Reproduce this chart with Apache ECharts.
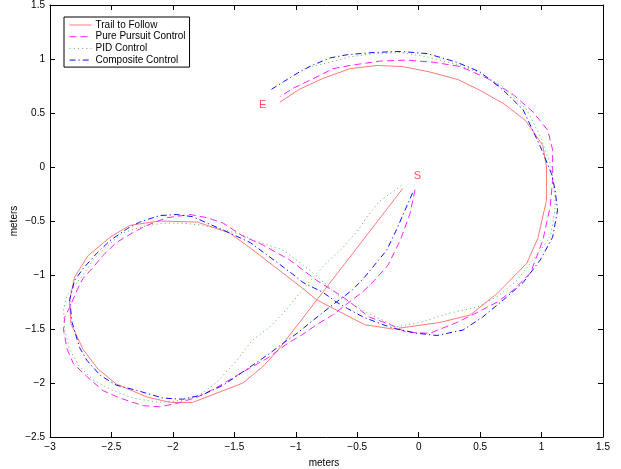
<!DOCTYPE html>
<html>
<head>
<meta charset="utf-8">
<script src="https://cdn.jsdelivr.net/npm/echarts@6/dist/echarts.min.js"></script>
<style>
  html, body { margin: 0; padding: 0; background: #fff; }
  #chart { width: 621px; height: 469px; }
</style>
</head>
<body>
<div id="chart"></div>
<script>
// path points, [x, y] in meters
const trail = [
  [-0.13, -0.20], [-1.14, -1.69], [-1.27, -1.85], [-1.43, -2.00], [-1.84, -2.18], [-2.02, -2.18],
  [-2.21, -2.13], [-2.46, -2.01], [-2.61, -1.87], [-2.73, -1.69], [-2.83, -1.45], [-2.84, -1.23],
  [-2.80, -1.02], [-2.69, -0.82], [-2.51, -0.65], [-2.35, -0.54], [-2.11, -0.50], [-1.80, -0.51],
  [-1.54, -0.61], [-1.37, -0.75], [-0.97, -1.10], [-0.83, -1.23], [-0.44, -1.46], [-0.21, -1.50],
  [0.17, -1.44], [0.42, -1.37], [0.64, -1.17], [0.88, -0.89], [0.97, -0.66], [1.04, -0.31],
  [1.04, 0.00], [1.01, 0.20], [0.87, 0.43], [0.70, 0.58], [0.50, 0.71], [0.32, 0.81],
  [0.09, 0.88], [-0.13, 0.93], [-0.34, 0.94], [-0.56, 0.91], [-0.78, 0.82], [-0.97, 0.72],
  [-1.13, 0.60]
]
const purePursuit = [
  [-0.03, -0.21], [-0.07, -0.43], [-0.15, -0.68], [-0.25, -0.91], [-0.36, -1.05], [-0.44, -1.14],
  [-0.54, -1.23], [-0.70, -1.37], [-0.83, -1.46], [-0.97, -1.57], [-1.05, -1.62], [-1.23, -1.77],
  [-1.45, -1.91], [-1.64, -2.04], [-1.80, -2.13], [-1.97, -2.19], [-2.11, -2.22], [-2.24, -2.21],
  [-2.43, -2.14], [-2.57, -2.07], [-2.70, -1.94], [-2.81, -1.82], [-2.86, -1.69], [-2.89, -1.51],
  [-2.88, -1.39], [-2.84, -1.30], [-2.78, -1.14], [-2.73, -1.03], [-2.65, -0.93], [-2.57, -0.82],
  [-2.46, -0.70], [-2.33, -0.61], [-2.21, -0.54], [-2.05, -0.47], [-1.86, -0.44], [-1.72, -0.47],
  [-1.59, -0.52], [-1.43, -0.64], [-1.27, -0.72], [-1.05, -0.86], [-0.83, -1.05], [-0.62, -1.20],
  [-0.40, -1.39], [-0.23, -1.46], [-0.10, -1.53], [0.09, -1.54], [0.31, -1.44], [0.47, -1.35],
  [0.64, -1.25], [0.77, -1.14], [0.91, -0.98], [1.01, -0.68], [1.07, -0.37], [1.09, -0.12],
  [1.09, 0.16], [1.05, 0.34], [0.93, 0.51], [0.77, 0.67], [0.56, 0.82], [0.34, 0.93],
  [0.12, 0.97], [-0.10, 0.99], [-0.32, 0.98], [-0.56, 0.94], [-0.70, 0.91], [-0.80, 0.85],
  [-0.91, 0.79], [-1.02, 0.73], [-1.13, 0.65]
]
const pid = [
  [-0.14, -0.17], [-0.32, -0.32], [-0.42, -0.46], [-0.49, -0.58], [-0.62, -0.75], [-0.75, -0.89],
  [-0.88, -1.05], [-0.99, -1.20], [-1.10, -1.35], [-1.21, -1.48], [-1.35, -1.60], [-1.48, -1.79],
  [-1.64, -1.99], [-1.78, -2.11], [-1.92, -2.16], [-2.11, -2.18], [-2.32, -2.14], [-2.49, -2.07],
  [-2.65, -1.97], [-2.76, -1.85], [-2.84, -1.69], [-2.88, -1.51], [-2.89, -1.32], [-2.86, -1.19],
  [-2.78, -1.07], [-2.70, -0.95], [-2.65, -0.86], [-2.54, -0.74], [-2.41, -0.61], [-2.24, -0.55],
  [-2.08, -0.52], [-1.92, -0.52], [-1.76, -0.54], [-1.59, -0.58], [-1.43, -0.63], [-1.32, -0.69],
  [-1.10, -0.77], [-0.86, -0.98], [-0.64, -1.20], [-0.42, -1.35], [-0.18, -1.48], [0.01, -1.44],
  [0.26, -1.35], [0.47, -1.30], [0.64, -1.20], [0.80, -1.05], [0.93, -0.86], [1.07, -0.65],
  [1.11, -0.40], [1.11, -0.28], [1.08, 0.00], [0.99, 0.28], [0.88, 0.53], [0.69, 0.74],
  [0.50, 0.87], [0.31, 0.95], [0.07, 1.02], [-0.15, 1.06], [-0.36, 1.05], [-0.56, 1.02],
  [-0.72, 0.97], [-0.84, 0.94], [-0.93, 0.91]
]
const composite = [
  [-0.05, -0.24], [-0.18, -0.58], [-0.26, -0.77], [-0.44, -1.02], [-0.54, -1.14], [-0.67, -1.25],
  [-0.86, -1.42], [-0.99, -1.54], [-1.10, -1.63], [-1.23, -1.74], [-1.37, -1.85], [-1.59, -2.02],
  [-1.76, -2.11], [-1.92, -2.15], [-2.08, -2.14], [-2.29, -2.07], [-2.46, -2.02], [-2.59, -1.93],
  [-2.70, -1.79], [-2.76, -1.67], [-2.82, -1.44], [-2.84, -1.23], [-2.80, -1.05], [-2.73, -0.94],
  [-2.62, -0.80], [-2.51, -0.68], [-2.37, -0.57], [-2.27, -0.51], [-2.11, -0.45], [-1.97, -0.44],
  [-1.84, -0.46], [-1.70, -0.53], [-1.54, -0.61], [-1.37, -0.70], [-1.05, -0.97], [-0.94, -1.07],
  [-0.78, -1.16], [-0.67, -1.25], [-0.58, -1.31], [-0.45, -1.39], [-0.29, -1.46], [-0.18, -1.50],
  [-0.01, -1.54], [0.15, -1.56], [0.36, -1.51], [0.52, -1.39], [0.69, -1.23], [0.85, -1.07],
  [0.99, -0.86], [1.09, -0.65], [1.13, -0.40], [1.11, -0.21], [1.08, -0.06], [0.99, 0.19],
  [0.85, 0.53], [0.69, 0.71], [0.50, 0.88], [0.31, 0.97], [0.07, 1.05], [-0.15, 1.07],
  [-0.37, 1.06], [-0.58, 1.04], [-0.72, 1.01], [-0.87, 0.94], [-0.97, 0.88], [-1.10, 0.79],
  [-1.21, 0.71]
]
// start / end markers
const marks = [
  { name: 'S', value: [-0.01, -0.08] },
  { name: 'E', value: [-1.27, 0.57] }
]
const X_MIN = -3, X_MAX = 1.5, Y_MIN = -2.5, Y_MAX = 1.5, STEP = 0.5

const FONT = 'Liberation Sans'
const minus = (v) => String(v).replace('-', '\u2212')

function axisBase(pos, min, max, labels) {
  return {
    type: 'value',
    position: pos,
    min: min,
    max: max,
    interval: STEP,
    axisLine: { show: true, onZero: false, lineStyle: { color: '#000', width: 1 } },
    axisTick: { show: true, inside: true, length: 5, lineStyle: { color: '#000' } },
    splitLine: { show: false },
    axisLabel: {
      show: labels,
      color: '#000',
      fontSize: 10,
      fontFamily: FONT,
      margin: 5,
      formatter: minus,
    },
  }
}

function pathSeries(name, data, color, dash) {
  return {
    name: name,
    type: 'line',
    data: data,
    xAxisIndex: 0,
    yAxisIndex: 0,
    symbol: 'none',
    showSymbol: false,
    smooth: false,
    lineStyle: { color: color, width: 1, type: dash },
    itemStyle: { color: color },
    silent: true,
  }
}

const chart = echarts.init(document.getElementById('chart'))
chart.setOption({
  animation: false,
  backgroundColor: '#fff',
  grid: { left: 50, right: 18, top: 5, bottom: 32 },
  xAxis: [axisBase('bottom', X_MIN, X_MAX, true), axisBase('top', X_MIN, X_MAX, false)],
  yAxis: [axisBase('left', Y_MIN, Y_MAX, true), axisBase('right', Y_MIN, Y_MAX, false)],
  legend: {
    orient: 'vertical',
    left: 64,
    top: 17,
    padding: [3, 4, 2, 5],
    itemGap: 1.7,
    itemWidth: 22,
    itemHeight: 10,
    backgroundColor: '#fff',
    borderColor: '#000',
    borderWidth: 1,
    borderRadius: 0,
    selectedMode: false,
    itemStyle: { opacity: 0 },
    lineStyle: { width: 1 },
    textStyle: { color: '#000', fontSize: 10, fontFamily: FONT, lineHeight: 10, padding: [0, 0, 0, -1] },
    data: ['Trail to Follow', 'Pure Pursuit Control', 'PID Control', 'Composite Control'],
  },
  series: [
    pathSeries('Trail to Follow', trail, '#ff7b7b', 'solid'),
    pathSeries('Pure Pursuit Control', purePursuit, '#ff22ff', [7, 4]),
    pathSeries('PID Control', pid, '#6cc06c', [1.2, 3]),
    pathSeries('Composite Control', composite, '#1010ff', [6, 3, 1.2, 3]),
    {
      type: 'scatter',
      data: marks,
      symbolSize: 0,
      silent: true,
      label: {
        show: true,
        position: 'inside',
        formatter: (p) => p.name,
        color: '#ff2a2a',
        fontSize: 11,
        fontFamily: FONT,
      },
    },
  ],
  graphic: [
    {
      type: 'text',
      x: 324,
      y: 463,
      style: { text: 'meters', fontSize: 10, fontFamily: FONT, fill: '#000', align: 'center', verticalAlign: 'middle' },
    },
    {
      type: 'text',
      x: 14,
      y: 221,
      rotation: Math.PI / 2,
      style: { text: 'meters', fontSize: 10, fontFamily: FONT, fill: '#000', align: 'center', verticalAlign: 'middle' },
    },
  ],
})
</script>
</body>
</html>
